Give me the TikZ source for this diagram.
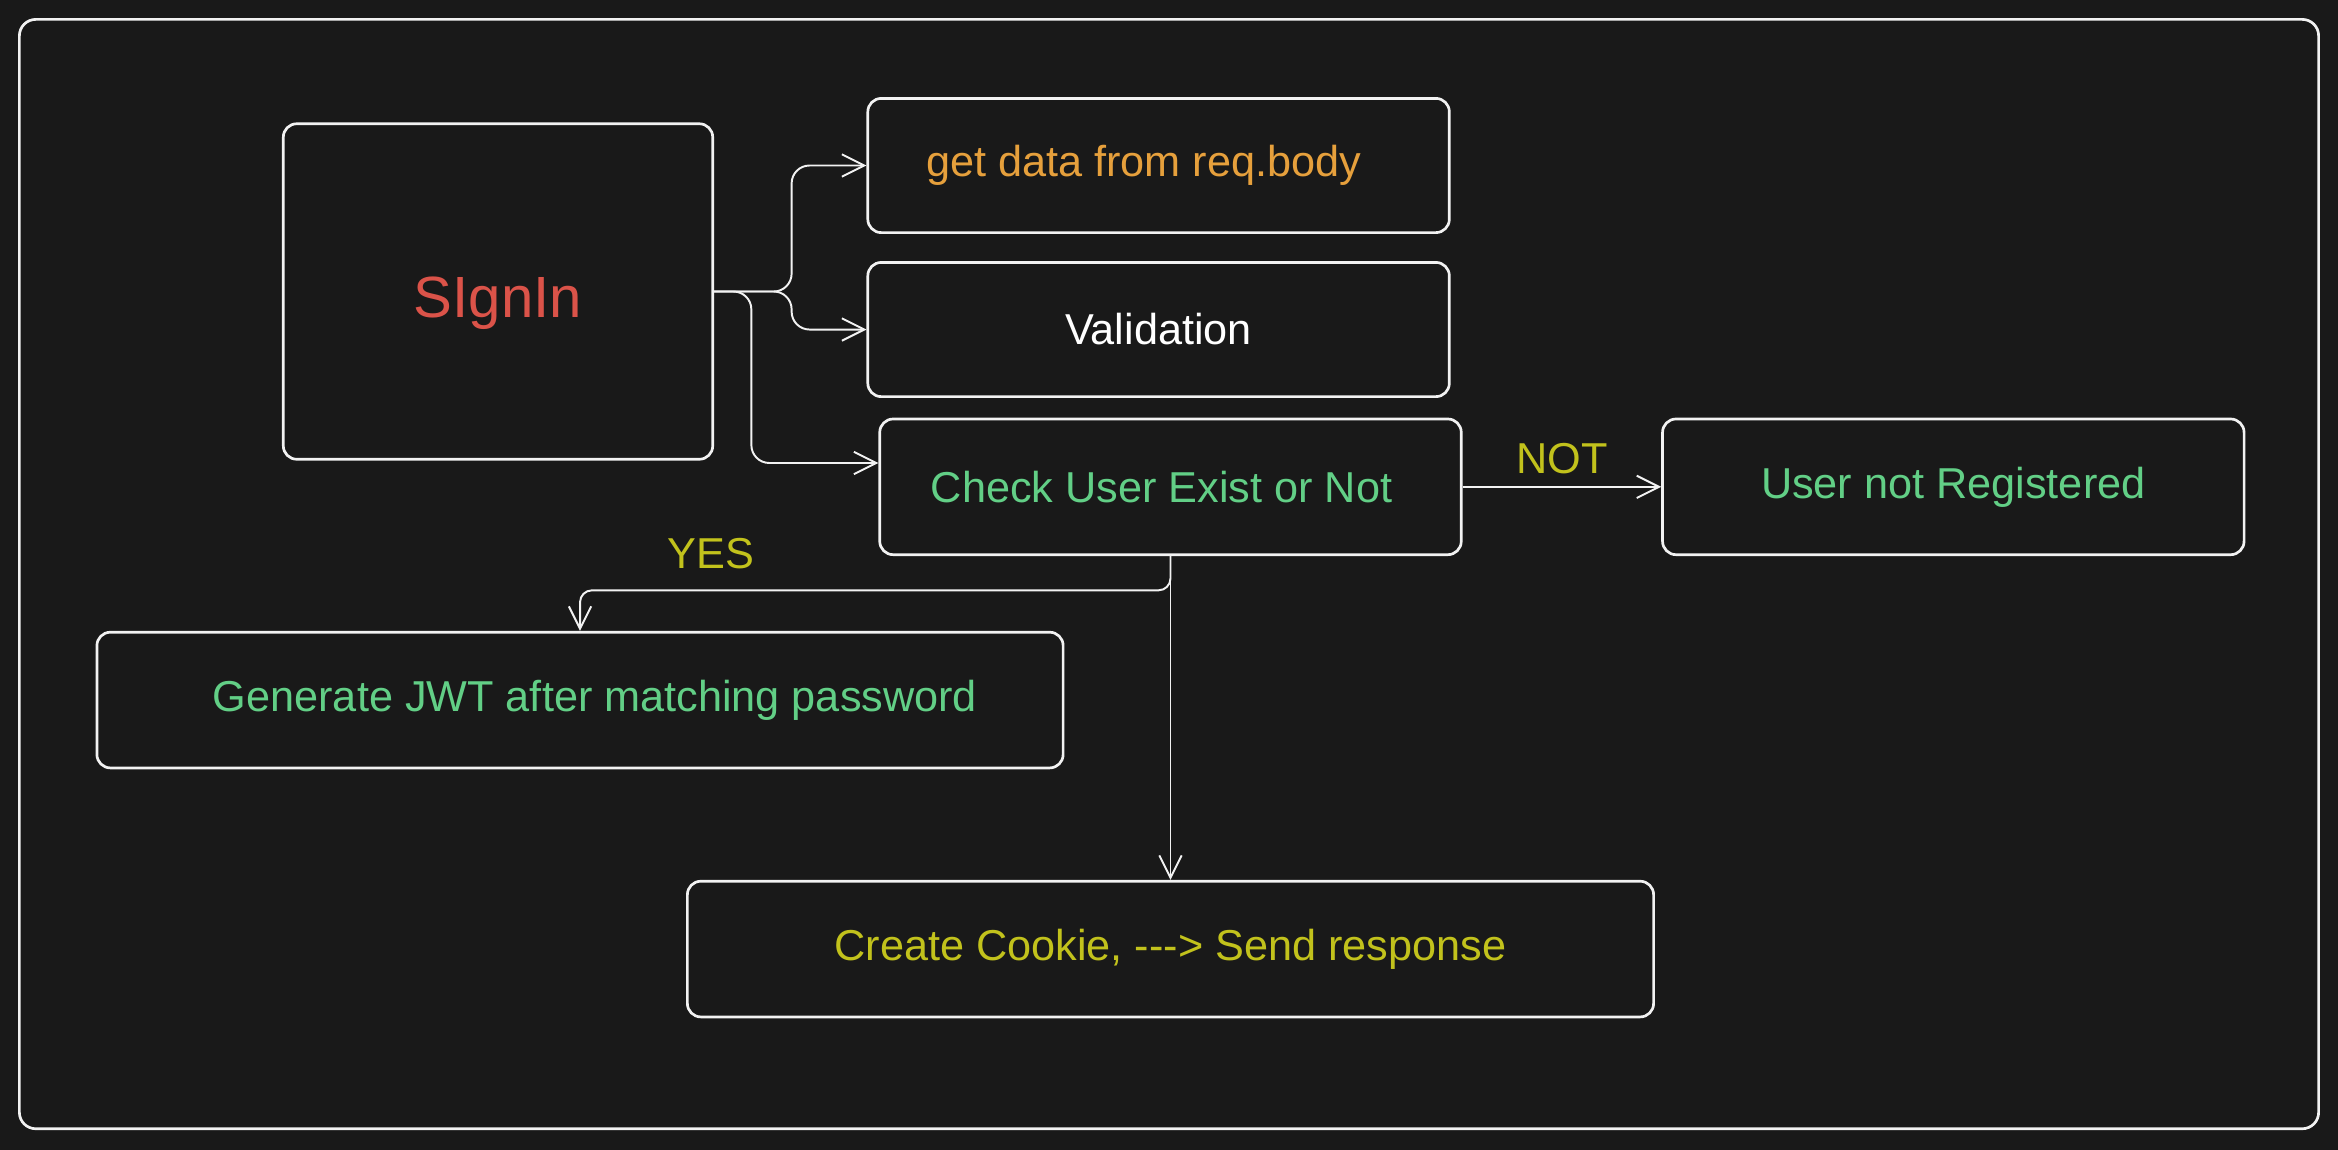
\documentclass[tikz,border=0pt]{standalone}
\usepackage{fontspec}
\setmainfont{Liberation Sans}
\usetikzlibrary{arrows.meta,calc}
\definecolor{BgClr}{HTML}{191919}
\definecolor{LineClr}{HTML}{F2F2F2}
\definecolor{RedClr}{HTML}{DB5349}
\definecolor{OrangeClr}{HTML}{E6A03C}
\definecolor{GreenClr}{HTML}{62CF86}
\definecolor{OliveClr}{HTML}{C2C21C}

\tikzset{
  box/.style={draw=LineClr,line width=1.8pt,rounded corners=9pt,fill=BgClr,
    inner sep=0pt,minimum width=390pt,minimum height=90pt,
    font=\fontsize{29}{35}\selectfont},
  widebox/.style={box,minimum width=648pt},
  arr/.style={draw=LineClr,line width=1.3pt,rounded corners=12pt,
    -{Straight Barb[length=15pt,width=15pt,line width=1.3pt]}},
  lbl/.style={text=OliveClr,font=\fontsize{29}{35}\selectfont,inner sep=2pt}
}

\begin{document}
\begin{tikzpicture}[x=1pt,y=-1pt]
\fill[BgClr] (0,0) rectangle (1568,771);
\useasboundingbox (0,0) rectangle (1568,771);
\draw[LineClr,line width=1.8pt,rounded corners=11pt] (13,13) rectangle (1555,757);

% boxes
\node[box,minimum width=288pt,minimum height=225pt,text=RedClr,
  text height=35pt,text depth=0pt,
  font=\fontsize{39}{47}\selectfont] (signin) at (334,195.5) {SIgnIn};
\node[box,text=OrangeClr] (getdata) at (777,111) {\hspace*{-20pt}get data from req.body};
\node[box,text=white] (valid) at (777,221) {Validation};
\node[box,minimum height=91pt,text=GreenClr] (check) at (785,326.5) {\hspace*{-12pt}Check User Exist or Not};
\node[box,minimum height=91pt,text=GreenClr] (notreg) at (1310,326.5) {User not Registered};
\node[widebox,minimum height=91pt,text=GreenClr] (jwt) at (389,469.5) {\hspace*{20pt}Generate JWT after matching password};
\node[widebox,minimum height=91pt,text=OliveClr] (cookie) at (785,636.5) {Create Cookie, {-}{-}{-}> Send response};

% connectors
\draw[arr] (signin.east) -- ++(52,0) |- (getdata.west);
\draw[arr] (signin.east) -- ++(52,0) |- (valid.west);
\draw[arr] (signin.east) -- ++(25,0) |- ([yshift=16pt]check.west);
\draw[arr] (check.east) -- node[lbl,above=6pt] (no) {NOT} (notreg.west);
\draw[arr,rounded corners=8pt] (check.south) -- ++(0,23) -| (jwt.north);
\node[lbl] (yes) at (477,371) {YES};
\draw[arr] (check.south) -- (cookie.north);

\end{tikzpicture}
\end{document}
